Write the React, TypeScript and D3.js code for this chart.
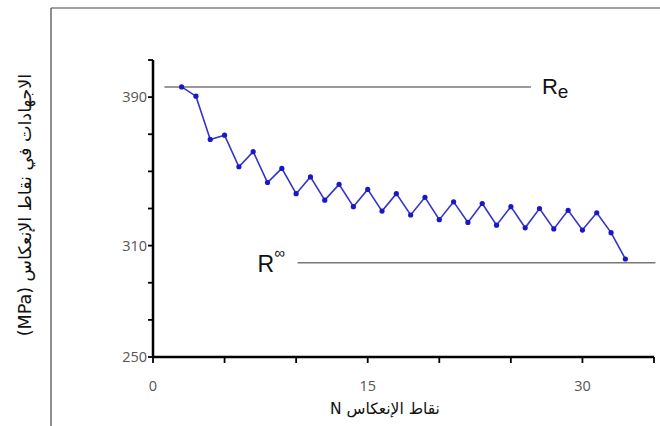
import React from 'react';
import * as d3 from 'd3';

// reversal point number N and stress at that point (MPa)
const pointN = [2, 3, 4, 5, 6, 7, 8, 9, 10, 11, 12, 13, 14, 15, 16, 17,
  18, 19, 20, 21, 22, 23, 24, 25, 26, 27, 28, 29, 30, 31, 32, 33];
const stress = [395.5, 390.5, 367.2, 369.5, 352.5, 360.6, 344, 351.6, 338, 347,
  334.5, 343, 331, 340.3, 328.6, 338, 326.5, 336, 324, 333.6, 322.5, 332.7,
  321, 331, 319.6, 330, 319, 329, 318.4, 327.7, 317, 302.8];

// horizontal reference levels: Re and R-infinity
const refNames = ['Re', 'Rinf'];
const refValues = [395.5, 300.8];
const refFrom = [0.8, 10.1];
const refTo = [26.4, 35.1];

const xTicks = [0, 5, 10, 15, 20, 25, 30, 35];
const xLabels = [0, 15, 30];
const yTicks = [250, 270, 290, 310, 330, 350, 370, 390, 410];
const yLabels = [250, 310, 390];

const xTitle = 'نقاط الإنعكاس N';
const yTitle = 'الاجهادات في نقاط الإنعكاس (MPa)';

export default function App() {
  const width = 660, height = 426;
  const x = d3.scaleLinear().domain([0, 35]).range([153, 654]);
  const y = d3.scaleLinear().domain([250, 410]).range([357, 60]);

  const line = d3.line<number>()
    .x((d, i) => x(pointN[i]))
    .y(d => y(d));

  const numFont = "'Open Sans', 'DejaVu Sans', sans-serif";
  const arFont = "'DejaVu Sans', sans-serif";

  return (
    <div style={{ position: 'fixed', left: 0, top: 0 }}>
      <svg width={width} height={height} style={{ display: 'block', background: '#fff' }}>
        {/* frame */}
        <line x1={51} y1={8} x2={660} y2={8} stroke="#444" strokeWidth={1.2} />
        <line x1={51} y1={8} x2={51} y2={426} stroke="#444" strokeWidth={1.2} />

        {/* y axis */}
        <line x1={x(0)} y1={y(410)} x2={x(0)} y2={y(250)} stroke="#000" strokeWidth={2.5} />
        {yTicks.map(t => (
          <line key={'yt' + t} x1={x(0) - 5} x2={x(0)} y1={y(t)} y2={y(t)} stroke="#000" strokeWidth={1.8} />
        ))}
        {yLabels.map(t => (
          <text key={'yl' + t} x={x(0) - 6} y={y(t)} dy="0.35em" textAnchor="end"
            fontSize={14.5} fill="#555" fontFamily={numFont}>{t}</text>
        ))}

        {/* x axis */}
        <line x1={x(0)} y1={y(250)} x2={x(35)} y2={y(250)} stroke="#000" strokeWidth={2.5} />
        {xTicks.map(t => (
          <line key={'xt' + t} x1={x(t)} x2={x(t)} y1={y(250)} y2={y(250) + 6} stroke="#000" strokeWidth={1.8} />
        ))}
        {xLabels.map(t => (
          <text key={'xl' + t} x={x(t)} y={391} textAnchor="middle"
            fontSize={14.5} fill="#555" fontFamily={numFont}>{t}</text>
        ))}

        {/* titles */}
        <text x={385} y={414} textAnchor="middle" fontSize={15.5} fill="#111" fontFamily={arFont}
          direction="rtl">{xTitle}</text>
        <text transform={`translate(31,${205}) rotate(-90)`} textAnchor="middle" fontSize={17.5}
          fill="#111" fontFamily={arFont} direction="rtl">{yTitle}</text>

        {/* reference lines */}
        {refNames.map((n, i) => (
          <line key={n} x1={x(refFrom[i])} x2={x(refTo[i])} y1={y(refValues[i])} y2={y(refValues[i])}
            stroke="#777" strokeWidth={1.5} />
        ))}
        <text x={x(refTo[0]) + 11} y={y(refValues[0]) + 7} fontSize={22} fill="#111"
          fontFamily="'Liberation Sans', Arial, sans-serif">
          R<tspan fontSize={19} dy={4}>e</tspan>
        </text>
        <text x={x(refFrom[1]) - 40} y={y(refValues[1]) + 9} fontSize={23} fill="#111"
          fontFamily="'Liberation Sans', Arial, sans-serif">
          R<tspan fontSize={15} dy={-14}>∞</tspan>
        </text>

        {/* data */}
        <path d={line(stress) || ''} fill="none" stroke="#3434c8" strokeWidth={1.6} />
        {stress.map((v, i) => (
          <circle key={i} cx={x(pointN[i])} cy={y(v)} r={2.6} fill="#1818c8" />
        ))}
      </svg>
    </div>
  );
}
